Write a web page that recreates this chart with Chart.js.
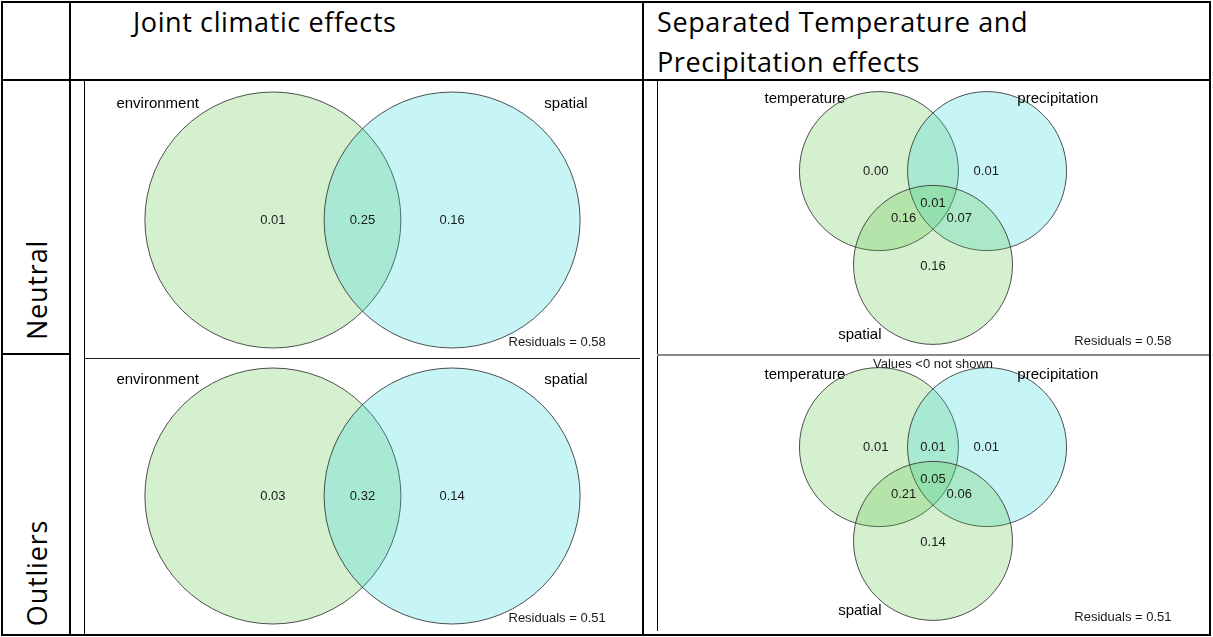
<!DOCTYPE html>
<html><head><meta charset="utf-8">
<script src="https://cdn.jsdelivr.net/npm/chart.js@4.4.1/dist/chart.umd.min.js"></script>
<style>
html,body{margin:0;padding:0;background:#fff;}
body{width:1213px;height:637px;position:relative;overflow:hidden;font-family:"Open Sans",Lato,sans-serif;}
.ln{position:absolute;background:#000;}
.hd{position:absolute;font-size:27px;letter-spacing:0.6px;color:#000;white-space:nowrap;line-height:40px;}
.rl{position:absolute;width:140px;height:30px;line-height:30px;text-align:center;font-size:27px;letter-spacing:0.8px;transform:rotate(-90deg);white-space:nowrap;}
canvas{position:absolute;}
</style></head>
<body>
<!-- table grid -->
<div class="ln" style="left:1px;top:1px;width:1210px;height:2px"></div>
<div class="ln" style="left:1px;top:634px;width:1210px;height:2px"></div>
<div class="ln" style="left:1px;top:1px;width:2px;height:635px"></div>
<div class="ln" style="left:1209px;top:1px;width:2px;height:635px"></div>
<div class="ln" style="left:69px;top:1px;width:2px;height:635px"></div>
<div class="ln" style="left:642px;top:1px;width:2px;height:635px"></div>
<div class="ln" style="left:1px;top:79px;width:1210px;height:2px"></div>
<div class="ln" style="left:1px;top:353px;width:69px;height:2px"></div>
<!-- picture frames -->
<div class="ln" style="left:84px;top:81px;width:1px;height:553px"></div>
<div class="ln" style="left:657px;top:81px;width:1px;height:550px"></div>
<div class="ln" style="left:84px;top:358px;width:556px;height:1px;background:#222"></div>
<div class="ln" style="left:657px;top:354px;width:552px;height:2px;background:#8a8a8a"></div>

<div class="hd" style="left:133px;top:2px">Joint climatic effects</div>
<div class="hd" style="left:657px;top:2px">Separated Temperature and<br>Precipitation effects</div>
<div class="rl" style="left:-33px;top:275px">Neutral</div>
<div class="rl" style="left:-33px;top:558px">Outliers</div>

<canvas id="jointNeutral" width="555" height="276" style="left:85px;top:82px"></canvas>
<canvas id="jointOutliers" width="555" height="274" style="left:85px;top:359px"></canvas>
<canvas id="sepNeutral" width="550" height="272" style="left:658px;top:82px"></canvas>
<canvas id="sepOutliers" width="550" height="276" style="left:658px;top:356px"></canvas>

<script>
// ---- joint climatic effects: two sets ----
const jointSets = ['environment', 'spatial'];
const jointCircleX = [-0.70, 0.70];
const jointCircleY = [0, 0];
const jointCircleR = [1, 1];
const jointSetLabelX = [-1.60, 1.59];
const jointSetLabelY = [0.91, 0.91];
// fractions: environment only, shared, spatial only
const jointPartX = [-0.70, 0, 0.70];
const jointPartY = [0, 0, 0];
const jointNeutralParts = [0.01, 0.25, 0.16];
const jointOutlierParts = [0.03, 0.32, 0.14];

// ---- separated temperature / precipitation effects: three sets ----
const sepSets = ['temperature', 'precipitation', 'spatial'];
const sepCircleX = [-0.68, 0.68, 0];
const sepCircleY = [0.59, 0.59, -0.59];
const sepCircleR = [1, 1, 1];
const sepSetLabelX = [-1.61, 1.57, -0.92];
const sepSetLabelY = [1.50, 1.50, -1.47];
// fractions: T, P, T∩P, T∩S, T∩P∩S, P∩S, S (null = negative, not shown)
const sepPartX = [-0.72, 0.67, 0, -0.37, 0, 0.33, 0];
const sepPartY = [0.585, 0.585, 0.585, 0, 0.18, 0, -0.61];
const sepNeutralParts = [0.00, 0.01, null, 0.16, 0.01, 0.07, 0.16];
const sepOutlierParts = [0.01, 0.01, 0.01, 0.21, 0.05, 0.06, 0.14];

const residuals = {neutral: 0.58, outliers: 0.51};

const GREEN = 'rgba(89,194,65,0.25)';
const CYAN = 'rgba(32,215,219,0.25)';
const LABEL_FONT = '15px "Liberation Sans", Arial, sans-serif';
const VALUE_FONT = '13px "Liberation Sans", Arial, sans-serif';

// draws each set as a circle around its scatter point, radius taken from the x scale
const vennCircles = {
  id: 'vennCircles',
  beforeDatasetsDraw(chart, args, opts) {
    const {ctx, scales: {x}} = chart;
    const unit = x.getPixelForValue(1) - x.getPixelForValue(0);
    const meta = chart.getDatasetMeta(0);
    const ds = chart.data.datasets[0];
    ctx.save();
    meta.data.forEach((pt, i) => {
      ctx.beginPath();
      ctx.arc(pt.x, pt.y, ds.data[i].rad * unit, 0, Math.PI * 2);
      ctx.fillStyle = opts.colors[i];
      ctx.fill();
      ctx.lineWidth = 1;
      ctx.strokeStyle = 'rgba(50,50,50,0.85)';
      ctx.stroke();
    });
    ctx.restore();
  }
};

const vennText = {
  id: 'vennText',
  afterDatasetsDraw(chart, args, opts) {
    const {ctx, scales: {x, y}} = chart;
    ctx.save();
    ctx.textBaseline = 'middle';
    for (const t of opts.items || []) {
      ctx.font = t.font;
      ctx.fillStyle = t.color;
      ctx.textAlign = t.align || 'center';
      ctx.fillText(t.text, x.getPixelForValue(t.x), y.getPixelForValue(t.y));
    }
    ctx.restore();
  }
};

function makeVenn(id, p) {
  const cv = document.getElementById(id);
  const hx = cv.width / 2 / p.unit, hy = cv.height / 2 / p.unit;
  const items = [];
  p.sets.forEach((s, i) => items.push({text: s, x: p.labelX[i], y: p.labelY[i], font: LABEL_FONT, color: '#000'}));
  p.parts.forEach((v, i) => {
    if (v === null) return;
    items.push({text: v.toFixed(2), x: p.partX[i], y: p.partY[i], font: VALUE_FONT, color: '#1a1a1a'});
  });
  items.push({text: 'Residuals = ' + p.resid.toFixed(2), x: p.residX, y: p.residY, font: VALUE_FONT, color: '#1a1a1a', align: 'right'});
  if (p.note) items.push({text: p.note, x: 0, y: p.noteY, font: VALUE_FONT, color: '#1a1a1a'});
  new Chart(cv, {
    type: 'scatter',
    data: {
      datasets: [{
        data: p.cx.map((x, i) => ({x, y: p.cy[i], rad: p.cr[i]})),
        pointRadius: 0,
        pointHoverRadius: 0
      }]
    },
    options: {
      responsive: false,
      maintainAspectRatio: false,
      devicePixelRatio: 1,
      animation: false,
      events: [],
      layout: {padding: 0},
      scales: {
        x: {type: 'linear', display: false, min: -hx, max: hx},
        y: {type: 'linear', display: false, min: -hy, max: hy}
      },
      plugins: {legend: {display: false}, tooltip: {enabled: false},
        vennCircles: {colors: p.colors}, vennText: {items}}
    },
    plugins: [vennCircles, vennText]
  });
}

const jointBase = {unit: 128, sets: jointSets, cx: jointCircleX, cy: jointCircleY, cr: jointCircleR,
  labelX: jointSetLabelX, labelY: jointSetLabelY, partX: jointPartX, partY: jointPartY,
  colors: [GREEN, CYAN], residX: 1.90, residY: -0.955};
makeVenn('jointNeutral', Object.assign({}, jointBase, {parts: jointNeutralParts, resid: residuals.neutral}));
makeVenn('jointOutliers', Object.assign({}, jointBase, {parts: jointOutlierParts, resid: residuals.outliers}));

const sepBase = {unit: 79.5, sets: sepSets, cx: sepCircleX, cy: sepCircleY, cr: sepCircleR,
  labelX: sepSetLabelX, labelY: sepSetLabelY, partX: sepPartX, partY: sepPartY,
  colors: [GREEN, CYAN, GREEN], residX: 3.0, residY: -1.555};
makeVenn('sepNeutral', Object.assign({}, sepBase, {parts: sepNeutralParts, resid: residuals.neutral}));
makeVenn('sepOutliers', Object.assign({}, sepBase, {parts: sepOutlierParts, resid: residuals.outliers,
  note: 'Values <0 not shown', noteY: 1.63}));
</script>
</body></html>
